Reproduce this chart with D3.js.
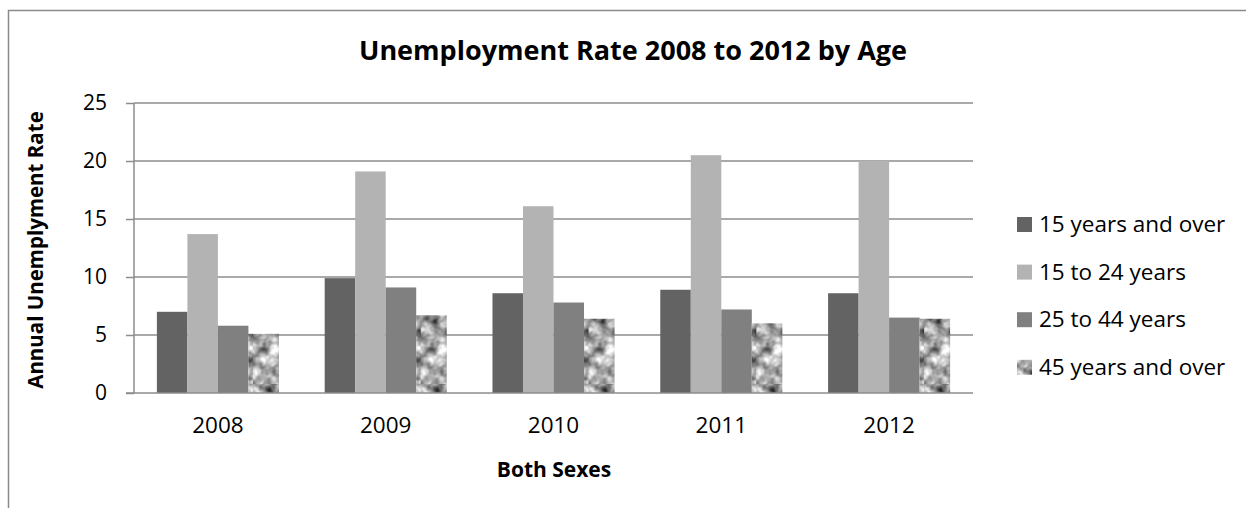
<!DOCTYPE html>
<html>
<head>
<meta charset="utf-8">
<script src="https://cdn.jsdelivr.net/npm/d3@7"></script>
<style>
  html, body { margin: 0; padding: 0; background: #fff; }
  svg { display: block; font-family: "Open Sans", "Liberation Sans", sans-serif; }
</style>
</head>
<body>
<svg id="chart" width="1246" height="508"></svg>
<script>
// Unemployment rate by age group, both sexes
const years = ["2008", "2009", "2010", "2011", "2012"];
const seriesNames = ["15 years and over", "15 to 24 years", "25 to 44 years", "45 years and over"];
const age15plus   = [7.0, 9.9, 8.6, 8.9, 8.6];
const age15to24   = [13.7, 19.1, 16.1, 20.5, 20.0];
const age25to44   = [5.8, 9.1, 7.8, 7.2, 6.5];
const age45plus   = [5.1, 6.7, 6.4, 6.0, 6.4];
const yTicks = [0, 5, 10, 15, 20, 25];

const seriesValues = [age15plus, age15to24, age25to44, age45plus];
const fills = ["#636363", "#b3b3b3", "#808080", "url(#granite)"];

const svg = d3.select("#chart");
const W = 1246, H = 508;
const plot = { left: 134, right: 973, top: 103, bottom: 393 };

// granite-like texture for the last series
const defs = svg.append("defs");
const filt = defs.append("filter").attr("id", "graniteNoise")
  .attr("x", 0).attr("y", 0).attr("width", "100%").attr("height", "100%")
  .attr("color-interpolation-filters", "sRGB");
filt.append("feTurbulence").attr("type", "fractalNoise")
  .attr("baseFrequency", 0.075).attr("numOctaves", 3).attr("seed", 11).attr("result", "n");
filt.append("feColorMatrix").attr("type", "matrix")
  .attr("values", "0.34 0.33 0.33 0 0  0.34 0.33 0.33 0 0  0.34 0.33 0.33 0 0  0 0 0 0 1")
  .attr("result", "g");
filt.append("feComponentTransfer")
  .call(ct => {
    ["feFuncR", "feFuncG", "feFuncB"].forEach(f =>
      ct.append(f).attr("type", "linear").attr("slope", 2.4).attr("intercept", -0.58));
  });
const pat = defs.append("pattern").attr("id", "granite")
  .attr("patternUnits", "userSpaceOnUse").attr("width", 96).attr("height", 96);
pat.append("rect").attr("width", 96).attr("height", 96).attr("fill", "#999")
  .attr("filter", "url(#graniteNoise)");

// outer chart frame
svg.append("path")
  .attr("d", `M8.5,${H} V10.5 H${W}`)
  .attr("fill", "none").attr("stroke", "#8a8a8a").attr("stroke-width", 1.5);

const x0 = d3.scaleBand().domain(years).range([plot.left, plot.right]).paddingInner(0).paddingOuter(0);
const groupW = x0.bandwidth() * 4 / 5.5;
const x1 = d3.scaleBand().domain(d3.range(4)).range([0, groupW]).padding(0);
const y = d3.scaleLinear().domain([0, 25]).range([plot.bottom, plot.top]);

// horizontal gridlines
svg.append("g").selectAll("line").data(yTicks.filter(t => t > 0)).join("line")
  .attr("x1", plot.left).attr("x2", plot.right)
  .attr("y1", d => y(d)).attr("y2", d => y(d))
  .attr("stroke", "#8c8c8c").attr("stroke-width", 1.5);

// bars
const groups = svg.append("g").selectAll("g").data(years).join("g")
  .attr("transform", d => `translate(${x0(d) + (x0.bandwidth() - groupW) / 2},0)`);
groups.selectAll("rect")
  .data((yr, i) => seriesValues.map((vals, s) => ({ s, v: vals[i] })))
  .join("rect")
  .attr("x", d => x1(d.s))
  .attr("width", x1.bandwidth())
  .attr("y", d => y(d.v))
  .attr("height", d => y(0) - y(d.v))
  .attr("fill", d => fills[d.s]);

// y axis
const yAxis = svg.append("g").attr("transform", `translate(${plot.left},0)`)
  .call(d3.axisLeft(y).tickValues(yTicks).tickSize(8).tickPadding(19));
yAxis.select(".domain").attr("stroke", "#8c8c8c").attr("stroke-width", 1.5).attr("d", `M0,${plot.top}V${plot.bottom}`);
yAxis.selectAll(".tick line").attr("stroke", "#8c8c8c").attr("stroke-width", 1.5);
yAxis.selectAll(".tick text").attr("fill", "#000").style("font-size", "21px")
  .style("font-family", "'Open Sans', sans-serif");

// x axis baseline and labels
const xAxis = svg.append("g").attr("transform", `translate(0,${plot.bottom})`)
  .call(d3.axisBottom(x0).tickSize(0).tickPadding(24));
xAxis.select(".domain").attr("stroke", "#8c8c8c").attr("stroke-width", 1.5)
  .attr("d", `M${plot.left - 8},0H${plot.right}`);
xAxis.selectAll(".tick text").attr("fill", "#000").style("font-size", "22.5px")
  .style("font-family", "'Open Sans', sans-serif");

// titles
svg.append("text").attr("x", 633).attr("y", 60).attr("text-anchor", "middle")
  .style("font-size", "27px").style("font-weight", "bold").text("Unemployment Rate 2008 to 2012 by Age");
svg.append("text").attr("x", 554).attr("y", 477).attr("text-anchor", "middle")
  .style("font-size", "21px").style("font-weight", "bold").text("Both Sexes");
svg.append("text").attr("transform", "translate(43,250) rotate(-90)").attr("text-anchor", "middle")
  .style("font-size", "20.5px").style("font-weight", "bold").text("Annual Unemplyment Rate");

// legend
const legend = svg.append("g").selectAll("g").data(seriesNames).join("g")
  .attr("transform", (d, i) => `translate(1017,${224.5 + i * 47.6})`);
legend.append("rect").attr("x", 0).attr("y", -7.5).attr("width", 15).attr("height", 15)
  .attr("fill", (d, i) => fills[i]);
legend.append("text").attr("x", 22).attr("y", 7.5)
  .style("font-size", "22.5px").text(d => d);
</script>
</body>
</html>
